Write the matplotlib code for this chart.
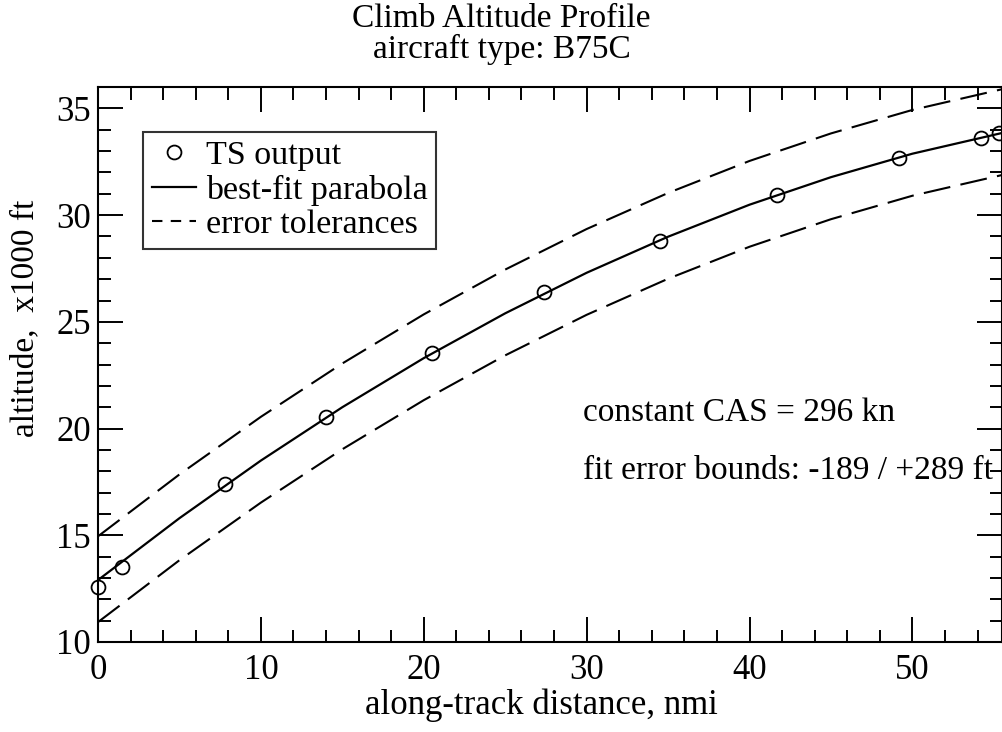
import numpy as np
import matplotlib
matplotlib.use('Agg')
import matplotlib.pyplot as plt
from matplotlib.lines import Line2D
from matplotlib.ticker import MultipleLocator

plt.rcParams['font.family'] = ['Liberation Serif', 'DejaVu Serif']

# TS output points (nmi, x1000 ft)
ts_dist = [0.0, 1.5, 7.8, 14.0, 20.5, 27.4, 34.5, 41.7, 49.2, 54.2, 55.3]
ts_alt = [12.57, 13.5, 17.4, 20.56, 23.55, 26.4, 28.8, 30.93, 32.66, 33.6, 33.83]

# best-fit parabola and tolerance lines
fit_dist = [0, 5, 10, 15, 20, 25, 30, 35, 40, 45, 50, 55.5]
fit_alt = [12.9, 15.8, 18.5, 21.0, 23.3, 25.4, 27.3, 28.99, 30.49, 31.78, 32.88, 33.85]
upper_alt = [14.95, 17.85, 20.55, 23.05, 25.35, 27.45, 29.35, 31.04, 32.54, 33.83, 34.93, 35.9]
lower_alt = [10.93, 13.83, 16.53, 19.03, 21.33, 23.43, 25.33, 27.02, 28.52, 29.81, 30.91, 31.88]

fig = plt.figure(figsize=(10.03, 7.32), dpi=100)
ax = fig.add_axes([0.0977, 0.123, 0.9013, 0.758])

ax.plot(fit_dist, fit_alt, '-', color='black', lw=1.6)
ax.plot(fit_dist, upper_alt, color='black', lw=1.5, dashes=(13, 5))
ax.plot(fit_dist, lower_alt, color='black', lw=1.5, dashes=(13, 5))
ax.plot(ts_dist, ts_alt, 'o', mfc='none', mec='black', ms=10, mew=1.3, clip_on=False)

ax.set_xlim(0, 55.5)
ax.set_ylim(10, 36)
ax.xaxis.set_major_locator(MultipleLocator(10))
ax.xaxis.set_minor_locator(MultipleLocator(2))
ax.yaxis.set_major_locator(MultipleLocator(5))
ax.yaxis.set_minor_locator(MultipleLocator(1))
ax.tick_params(which='both', direction='in', top=True, right=True, labelsize=25, width=1.4)
ax.tick_params(which='major', length=18)
ax.tick_params(which='minor', length=9)
ax.tick_params(axis='x', which='major', pad=9)
ax.tick_params(axis='y', which='major', pad=5)
for s in ax.spines.values():
    s.set_linewidth(1.5)

ax.set_xlabel('along-track distance, nmi', fontsize=25)
ax.xaxis.set_label_coords(0.491, -0.083)
ax.set_ylabel('altitude,  x1000 ft', fontsize=24)
ax.yaxis.set_label_coords(-0.064, 0.584)

fig.text(0.5, 1 - 19 / 732, 'Climb Altitude Profile', fontsize=24, ha='center', va='center')
fig.text(0.5, 1 - 49 / 732, 'aircraft type: B75C', fontsize=24, ha='center', va='center')

ax.text(29.75, 20.75, 'constant CAS = 296 kn', fontsize=24, va='center')
ax.text(29.75, 18.0, 'fit error bounds: -189 / +289 ft', fontsize=24, va='center')

handles = [
    Line2D([], [], ls='none', marker='o', mfc='none', mec='black', ms=10, mew=1.3),
    Line2D([], [], color='black', lw=1.6),
    Line2D([], [], color='black', lw=1.5, dashes=(5, 4)),
]
labels = ['TS output', 'best-fit parabola', 'error tolerances']
leg = ax.legend(handles, labels, loc='upper left', bbox_to_anchor=(0.05, 0.919),
                borderaxespad=0, fontsize=24.5, frameon=True, fancybox=False,
                edgecolor='black', handlelength=1.3, handletextpad=0.3,
                borderpad=0.25, labelspacing=0.1)
leg.get_frame().set_linewidth(1.5)

fig.savefig('out.png', dpi=100)
